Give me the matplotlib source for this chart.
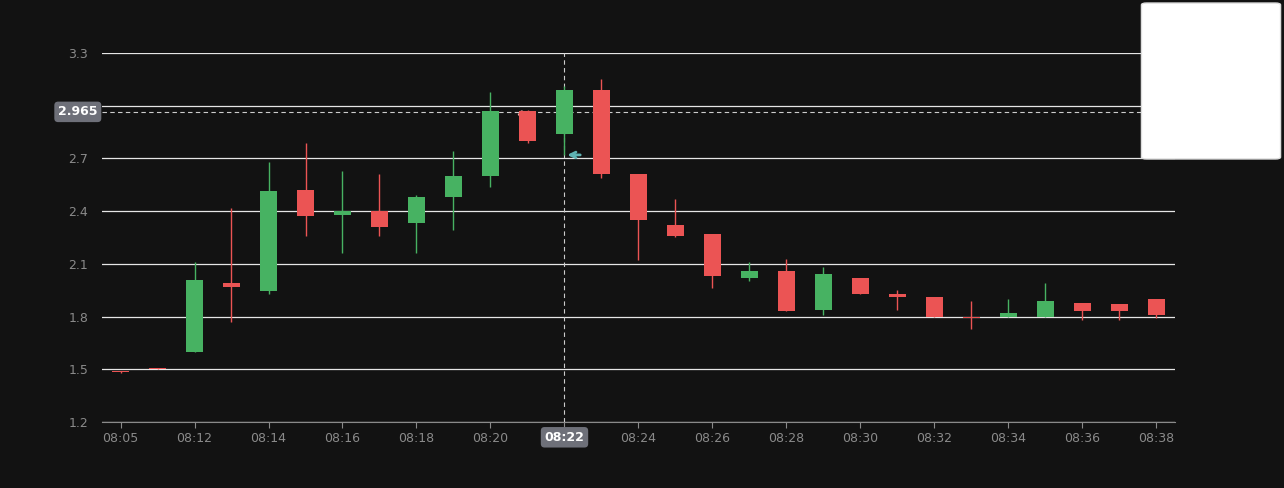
import matplotlib.pyplot as plt
from matplotlib.patches import FancyBboxPatch

times = ["08:05", "08:11"] + ["08:%02d" % m for m in range(12, 39)]
opens = [1.49, 1.505, 1.60, 1.99, 1.945, 2.52, 2.38, 2.40, 2.33, 2.48, 2.60, 2.97, 2.84, 3.09, 2.61,
         2.32, 2.27, 2.02, 2.06, 1.84, 2.02, 1.93, 1.91, 1.80, 1.80, 1.80, 1.88, 1.87, 1.90]
closes = [1.485, 1.50, 2.01, 1.97, 2.515, 2.37, 2.40, 2.31, 2.48, 2.60, 2.97, 2.80, 3.09, 2.61, 2.35,
          2.26, 2.03, 2.06, 1.83, 2.04, 1.93, 1.91, 1.80, 1.79, 1.82, 1.89, 1.83, 1.83, 1.81]
lows = [1.48, 1.50, 1.60, 1.77, 1.93, 2.26, 2.16, 2.26, 2.16, 2.29, 2.54, 2.79, 2.72, 2.59, 2.12,
        2.25, 1.96, 2.00, 1.83, 1.81, 1.93, 1.84, 1.80, 1.73, 1.80, 1.80, 1.78, 1.78, 1.79]
highs = [1.49, 1.51, 2.11, 2.42, 2.68, 2.79, 2.63, 2.61, 2.49, 2.74, 3.08, 2.975, 3.11, 3.15, 2.61,
         2.47, 2.27, 2.11, 2.13, 2.08, 2.02, 1.95, 1.91, 1.89, 1.90, 1.99, 1.88, 1.87, 1.90]
mark_value = 2.965
hover = 12

bg = "#121212"
green = "#47b262"
red = "#eb5454"

fig = plt.figure(figsize=(12.84, 4.88), dpi=100, facecolor=bg)
ax = fig.add_axes([102 / 1284, 1 - 422 / 488, 1073 / 1284, 369 / 488], facecolor=bg)

for i in range(len(times)):
    o, c, lo, hi = opens[i], closes[i], lows[i], highs[i]
    col = green if c > o else red
    ax.vlines(i, lo, hi, color=col, lw=1, zorder=3)
    ax.bar(i, max(abs(c - o), 0.006), bottom=min(o, c), width=0.48, color=col, zorder=4)

ax.set_xlim(-0.5, len(times) - 0.5)
ax.set_ylim(1.2, 3.3)
ax.set_yticks([1.2, 1.5, 1.8, 2.1, 2.4, 2.7, 3.0, 3.3])
ax.set_yticklabels(["1.2", "1.5", "1.8", "2.1", "2.4", "2.7", "", "3.3"])
ax.yaxis.grid(True, color="#e6e6e6", lw=0.9)
ax.set_xticks(range(0, len(times), 2))
ax.set_xticklabels(times[::2])
ax.tick_params(colors="#8a8a8a", labelsize=9)
ax.tick_params(axis="y", length=0, pad=10)
ax.tick_params(axis="x", length=4, color="#8a8a8a")
for s in ["top", "right", "left"]:
    ax.spines[s].set_visible(False)
ax.spines["bottom"].set_color("#8a8a8a")

# mark line and crosshair
ax.axhline(mark_value, color="#cccccc", lw=0.8, ls=(0, (4, 3)), zorder=2)
ax.axvline(hover, color="#cccccc", lw=0.8, ls=(0, (4, 3)), zorder=2)
ax.text(-0.62, mark_value, "%.3f" % mark_value, ha="right", va="center", color="white", fontsize=9,
        fontweight="bold", bbox=dict(boxstyle="round,pad=0.3", fc="#6e7079", ec="none"))
ax.text(hover, 1.2 - 0.05, times[hover], ha="center", va="top", color="white", fontsize=9,
        fontweight="bold", bbox=dict(boxstyle="round,pad=0.3", fc="#6e7079", ec="none"))

# arrow markers
ax.annotate("", xy=(11.15, opens[11] - 0.02), xytext=(10.7, opens[11] - 0.02),
            arrowprops=dict(arrowstyle="->", color="#f4a5a5", lw=2))
ax.annotate("", xy=(12.0, lows[12]), xytext=(12.5, lows[12]),
            arrowprops=dict(arrowstyle="->", color="#5fb3b3", lw=2))

# tooltip
tip = FancyBboxPatch((1144 / 1284, 1 - 158 / 488), 134 / 1284, 154 / 488, boxstyle="round,pad=0.002,rounding_size=0.004",
                     transform=fig.transFigure, fc="white", ec="#dddddd", zorder=10)
fig.patches.append(tip)
fig.text(1156 / 1284, 1 - 19 / 488, times[hover], color="#666666", fontsize=10, va="center")
fig.text(1160 / 1284, 1 - 44 / 488, "●", color=green, fontsize=10, va="center", ha="center")
rows = [("open", opens[hover]), ("close", closes[hover]), ("lowest", lows[hover]), ("highest", highs[hover])]
for k, (name, val) in enumerate(rows):
    y = 1 - (68 + 24 * k) / 488
    fig.text(1160 / 1284, y, "•", color=green, fontsize=7, va="center", ha="center")
    fig.text(1172 / 1284, y, name, color="#666666", fontsize=10, va="center")
    fig.text(1267 / 1284, y, "%.2f" % val, color="#666666", fontsize=10, va="center", ha="right", fontweight="bold")

fig.savefig("out.png", facecolor=bg)
